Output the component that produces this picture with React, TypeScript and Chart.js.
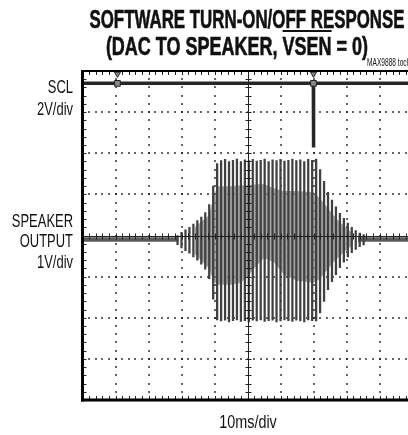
import React, { useEffect, useRef } from "react";
import { Chart, registerables } from "chart.js";

Chart.register(...registerables);

// ---- data (time in ms, 10 ms/div; amplitude in screen divisions) ----
const timeRange = [0, 100];
const divRange = [-4, 4];
const sclLevel = 3.7;
const sclPulseTime = 70.0;
const sclPulseLow = 2.14;
const markerTimes = [10.6, 70.0];
const markerTop = 3.93;
const speakerBaseline = -0.1;
const quietStarts = [0, 83.5];
const quietEnds = [29.0, 100];
const burstStart = 28.8;
const burstStep = 1.2;
const burstTop = [
  0.1, 0.18, 0.24, 0.3, 0.38, 0.46, 0.55, 0.66, 0.85, 1.3, 1.85,
  1.92, 1.95, 1.9, 1.93, 1.96, 1.9, 1.94, 1.92, 1.95, 1.91, 1.93, 1.96, 1.9,
  1.94, 1.92, 1.95, 1.91, 1.93, 1.96, 1.92, 1.94, 1.9, 1.95, 1.93, 1.96,
  1.7, 1.42, 1.15, 0.96, 0.8, 0.64, 0.52, 0.4, 0.3, 0.22, 0.16, 0.12,
];
const burstBottom = [
  0.12, 0.2, 0.27, 0.33, 0.42, 0.5, 0.6, 0.72, 0.95, 1.45, 1.95,
  1.98, 1.96, 2.0, 1.97, 1.95, 1.99, 1.97, 2.0, 1.96, 1.98, 1.95, 1.99, 1.97,
  1.96, 2.0, 1.98, 1.95, 1.97, 1.99, 1.96, 1.98, 2.0, 1.95, 1.97, 1.98,
  1.78, 1.5, 1.22, 1.02, 0.85, 0.68, 0.55, 0.42, 0.32, 0.24, 0.17, 0.13,
];
const innerTimes = [34, 38.4, 39.6, 40.8, 45, 48, 50, 52, 55, 58, 61, 65, 70, 72, 74, 76, 78, 80, 82];
const innerUpper = [0.3, 0.6, 1.0, 1.3, 1.3, 1.32, 1.32, 1.34, 1.35, 1.25, 1.18, 1.18, 1.15, 1.0, 0.8, 0.6, 0.42, 0.28, 0.15];
const innerLower = [-0.35, -0.7, -1.0, -1.1, -1.1, -1.05, -0.9, -0.7, -0.45, -0.55, -0.85, -1.0, -1.05, -0.95, -0.75, -0.55, -0.4, -0.25, -0.12];

const FONT = "'Liberation Sans', Arial, sans-serif";

const dot = (ctx: any, px: number, py: number) => ctx.fillRect(px - 0.8, py - 0.8, 1.6, 1.6);

const graticule = {
  id: "graticule",
  beforeDatasetsDraw(chart: any) {
    const { ctx, chartArea: a, scales } = chart;
    const x = scales.x;
    const y = scales.y;
    ctx.save();
    ctx.fillStyle = "#111";
    for (let k = 1; k < 10; k++) {
      if (k === 5) continue;
      const px = Math.round(x.getPixelForValue(k * 10));
      for (let m = 0; m <= 40; m++) dot(ctx, px, Math.round(y.getPixelForValue(-4 + m * 0.2)));
    }
    for (let j = -3; j <= 3; j++) {
      if (j === 0) continue;
      const py = Math.round(y.getPixelForValue(j));
      for (let m = 0; m <= 50; m++) dot(ctx, Math.round(x.getPixelForValue(m * 2)), py);
    }
    ctx.strokeStyle = "#222";
    ctx.lineWidth = 1;
    ctx.beginPath();
    for (let m = 0; m <= 40; m++) {
      const py = Math.round(y.getPixelForValue(-4 + m * 0.2)) + 0.5;
      ctx.moveTo(a.left, py);
      ctx.lineTo(a.left + 4, py);
    }
    for (let m = 0; m <= 50; m++) {
      const px = Math.round(x.getPixelForValue(m * 2)) + 0.5;
      ctx.moveTo(px, a.top);
      ctx.lineTo(px, a.top + 4);
      ctx.moveTo(px, a.bottom);
      ctx.lineTo(px, a.bottom - 4);
    }
    ctx.stroke();
    ctx.restore();
  },
  afterDatasetsDraw(chart: any) {
    const { ctx, chartArea: a, scales } = chart;
    const x = scales.x;
    const y = scales.y;
    ctx.save();
    ctx.strokeStyle = "#222";
    ctx.lineWidth = 1;
    const cx = Math.round(x.getPixelForValue(50)) + 0.5;
    const cy = Math.round(y.getPixelForValue(0)) + 0.5;
    ctx.beginPath();
    ctx.moveTo(cx, a.top);
    ctx.lineTo(cx, a.bottom);
    ctx.moveTo(a.left, cy);
    ctx.lineTo(a.right, cy);
    for (let m = 0; m <= 40; m++) {
      const py = Math.round(y.getPixelForValue(-4 + m * 0.2)) + 0.5;
      ctx.moveTo(cx - 3, py);
      ctx.lineTo(cx + 3, py);
    }
    for (let m = 0; m <= 50; m++) {
      const px = Math.round(x.getPixelForValue(m * 2)) + 0.5;
      ctx.moveTo(px, cy - 3);
      ctx.lineTo(px, cy + 3);
    }
    ctx.stroke();
    ctx.fillStyle = "#000";
    ctx.fillRect(a.left - 1.5, a.top - 1, 3, a.bottom - a.top + 2.5);
    ctx.fillRect(a.left - 1.5, a.bottom - 1.5, a.right - a.left + 3, 3);
    ctx.fillRect(a.left - 1.5, a.top - 1, a.right - a.left + 3, 2);
    ctx.restore();
  },
};

export default function App() {
  const ref = useRef<HTMLCanvasElement | null>(null);

  useEffect(() => {
    if (!ref.current) return;
    const burst = burstTop.map((top, i) => ({
      x: burstStart + i * burstStep,
      y: [speakerBaseline - burstBottom[i], speakerBaseline + top],
    }));

    const quiet: any[] = [];
    quietStarts.forEach((s, i) => {
      if (i > 0) quiet.push({ x: (quietEnds[i - 1] + s) / 2, y: null });
      quiet.push({ x: s, y: speakerBaseline });
      quiet.push({ x: quietEnds[i], y: speakerBaseline });
    });

    const scl = [
      { x: timeRange[0], y: sclLevel },
      { x: sclPulseTime - 0.05, y: sclLevel },
      { x: sclPulseTime, y: sclPulseLow },
      { x: sclPulseTime + 0.05, y: sclLevel },
      { x: timeRange[1], y: sclLevel },
    ];

    const markers: any[] = [];
    const markerStyles: string[] = [];
    const markerRot: number[] = [];
    const markerR: number[] = [];
    markerTimes.forEach((t) => {
      markers.push({ x: t, y: markerTop });
      markerStyles.push("triangle");
      markerRot.push(180);
      markerR.push(3.5);
      markers.push({ x: t, y: sclLevel });
      markerStyles.push("rect");
      markerRot.push(0);
      markerR.push(4);
    });

    const chart = new Chart(ref.current, {
      type: "line",
      data: {
        datasets: [
          {
            data: markers,
            showLine: false,
            pointStyle: markerStyles as any,
            rotation: markerRot as any,
            pointRadius: markerR as any,
            pointBackgroundColor: "#8a8a8a",
            pointBorderColor: "#222",
            pointBorderWidth: 1,
            order: 0,
          },
          {
            data: scl,
            borderColor: "#262626",
            borderWidth: 3.5,
            pointRadius: 0,
            order: 1,
          },
          {
            type: "bar",
            data: burst as any,
            backgroundColor: "#404040",
            borderWidth: 0,
            barThickness: 1.6,
            order: 2,
          } as any,
          {
            data: quiet,
            borderColor: "rgba(35,35,35,0.75)",
            borderWidth: 4.5,
            pointRadius: 0,
            spanGaps: false,
            order: 3,
          },
          {
            data: innerTimes.map((t, i) => ({ x: t, y: speakerBaseline + innerUpper[i] })),
            borderWidth: 0,
            pointRadius: 0,
            order: 4,
          },
          {
            data: innerTimes.map((t, i) => ({ x: t, y: speakerBaseline + innerLower[i] })),
            borderWidth: 0,
            pointRadius: 0,
            fill: "-1",
            backgroundColor: "rgba(135,135,135,0.75)",
            order: 5,
          },
        ],
      },
      options: {
        responsive: false,
        maintainAspectRatio: false,
        devicePixelRatio: 1,
        animation: false,
        layout: { padding: { left: 82.5, right: 7.5, top: 71, bottom: 35 } },
        plugins: { legend: { display: false }, tooltip: { enabled: false }, title: { display: false } },
        scales: {
          x: { type: "linear", min: timeRange[0], max: timeRange[1], display: false, offset: false },
          y: { type: "linear", min: divRange[0], max: divRange[1], display: false },
        },
      },
      plugins: [graticule],
    });
    return () => chart.destroy();
  }, []);

  const abs = (extra: any) => ({
    position: "absolute" as const,
    whiteSpace: "nowrap" as const,
    lineHeight: 1,
    fontFamily: FONT,
    color: "#111",
    ...extra,
  });
  const titleStyle = {
    fontSize: 25,
    fontWeight: "bold",
    WebkitTextStroke: "0.6px #111",
  };
  const label = (right: number, top: number) =>
    abs({ right, top, fontSize: 18, textAlign: "right", transform: "scaleX(0.72)", transformOrigin: "right top" });

  return (
    <div style={{ position: "absolute", left: 0, top: 0, width: 408, height: 435, overflow: "hidden", background: "#fff" }}>
      <canvas ref={ref} width={420} height={435} style={{ position: "absolute", left: 0, top: 0, width: 420, height: 435 }} />
      <div style={abs({ ...titleStyle, left: 247, top: 7, transform: "translateX(-50%) scaleX(0.675)" })}>
        SOFTWARE TURN-ON/OFF RESPONSE
      </div>
      <div style={abs({ ...titleStyle, left: 236.5, top: 34, transform: "translateX(-50%) scaleX(0.72)" })}>
        (DAC TO SPEAKER, <span style={{ textDecoration: "overline" }}>VSEN</span> = 0)
      </div>
      <div style={abs({ left: 367, top: 58, fontSize: 10, transform: "scaleX(0.66)", transformOrigin: "left top" })}>
        MAX9888 toc6
      </div>
      <div style={label(335, 78)}>SCL</div>
      <div style={label(335, 100)}>2V/div</div>
      <div style={label(335, 212)}>SPEAKER</div>
      <div style={label(335, 232)}>OUTPUT</div>
      <div style={label(335, 253)}>1V/div</div>
      <div style={abs({ left: 248, top: 413, fontSize: 18, transform: "translateX(-50%) scaleX(0.8)" })}>10ms/div</div>
    </div>
  );
}
